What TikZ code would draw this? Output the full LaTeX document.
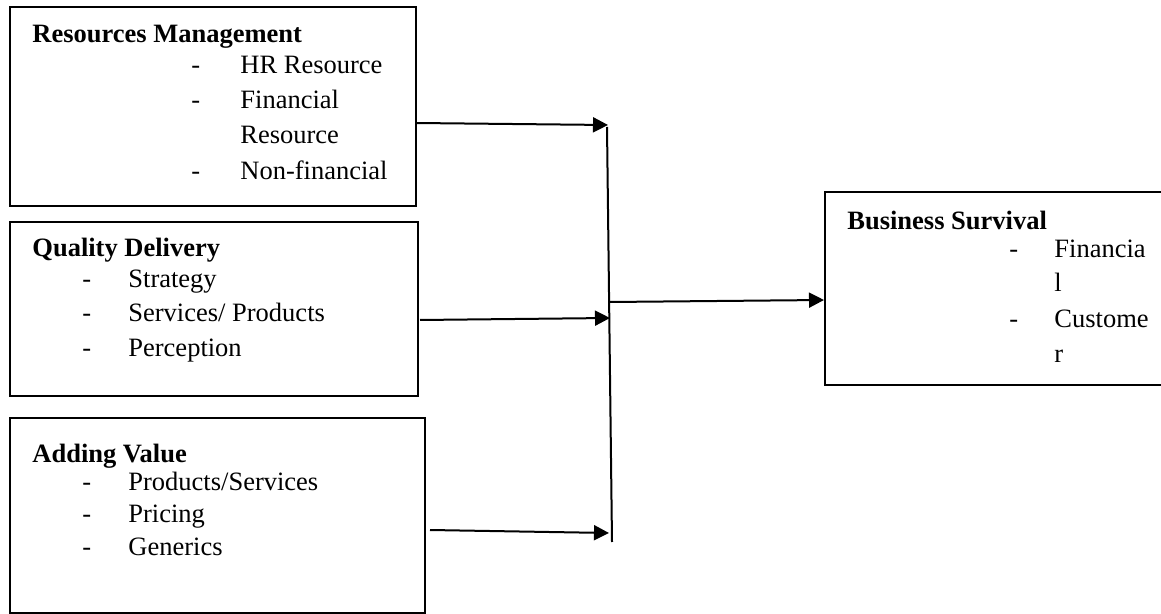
\documentclass[tikz,border=0pt]{standalone}
\usepackage{fontspec}
\setmainfont{Liberation Serif}
\usetikzlibrary{arrows.meta}
\tikzset{
  box/.style={draw, line width=1pt, inner sep=0pt},
  txt/.style={anchor=base west, inner sep=0pt, font=\fontsize{13.25}{16}\selectfont},
  head/.style={txt, font=\fontsize{13.25}{16}\selectfont\bfseries},
  arr/.style={line width=1pt, -{Triangle[length=7.5pt,width=7.5pt]}}
}
\begin{document}
\begin{tikzpicture}[x=0.5pt,y=-0.5pt]
\useasboundingbox (0,0) rectangle (1161,614);
% boxes
\node[box, minimum width=203pt, minimum height=99.5pt] (rm) at (213,106.5) {};
\node[box, minimum width=204pt, minimum height=87pt] (qd) at (214,309) {};
\node[box, minimum width=207.5pt, minimum height=97.5pt] (av) at (217.5,515.5) {};
\node[box, minimum width=175pt, minimum height=96.5pt] (bs) at (1000,288.5) {};
% resources management
\node[head] (rmh) at (32,43) {Resources Management};
\node[txt] (rmd1) at (191,74) {-};
\node[txt] (rmt1) at (240,74) {HR Resource};
\node[txt] (rmd2) at (191,109) {-};
\node[txt] (rmt2) at (240,109) {Financial};
\node[txt] (rmt3) at (240,144) {Resource};
\node[txt] (rmd4) at (191,180) {-};
\node[txt] (rmt4) at (240,180) {Non-financial};
% quality delivery
\node[head] (qdh) at (32,257) {Quality Delivery};
\node[txt] (qdd1) at (82,288) {-};
\node[txt] (qdt1) at (128,288) {Strategy};
\node[txt] (qdd2) at (82,322) {-};
\node[txt] (qdt2) at (128,322) {Services/ Products};
\node[txt] (qdd3) at (82,357) {-};
\node[txt] (qdt3) at (128,357) {Perception};
% adding value
\node[head] (avh) at (32,462) {Adding Value};
\node[txt] (avd1) at (82,490) {-};
\node[txt] (avt1) at (128,490) {Products/Services};
\node[txt] (avd2) at (82,522) {-};
\node[txt] (avt2) at (128,522) {Pricing};
\node[txt] (avd3) at (82,555) {-};
\node[txt] (avt3) at (128,555) {Generics};
% business survival
\node[head] (bsh) at (847,230) {Business Survival};
\node[txt] (bsd1) at (1009,258) {-};
\node[txt] (bst1) at (1054,258) {Financia};
\node[txt] (bst2) at (1054,292) {l};
\node[txt] (bsd3) at (1009,328) {-};
\node[txt] (bst3) at (1054,328) {Custome};
\node[txt] (bst4) at (1054,363) {r};
% connectors
\coordinate (jtop) at (607,127);
\coordinate (jbot) at (612,542);
\coordinate (jout) at (610,302);
\coordinate (s1) at (416,123);
\coordinate (e1) at (608,125);
\coordinate (s2) at (420,320);
\coordinate (e2) at (610,318);
\coordinate (s3) at (430,530);
\coordinate (e3) at (609,533);
\draw[line width=1pt] (jtop) -- (jbot);
\draw[arr] (s1) -- (e1);
\draw[arr] (s2) -- (e2);
\draw[arr] (s3) -- (e3);
\draw[arr] (jout) -- (bs.west |- 0,300);
\end{tikzpicture}
\end{document}
